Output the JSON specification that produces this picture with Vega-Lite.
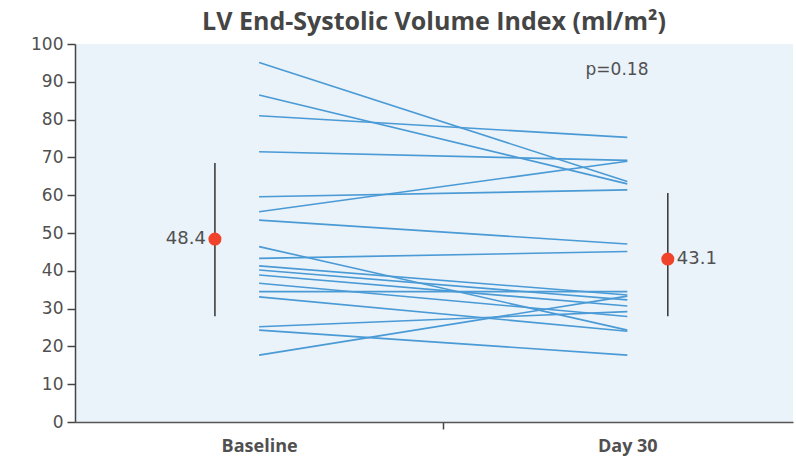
{
  "$schema": "https://vega.github.io/schema/vega-lite/v6.json",
  "width": 718,
  "height": 378,
  "autosize": {"type": "none"},
  "padding": {"left": 75, "top": 44, "right": 3, "bottom": 37},
  "background": "white",
  "view": {"fill": "#eaf2fa", "stroke": null},
  "config": {
    "axisX": {
      "title": null,
      "labelFont": "Open Sans",
      "labelFontSize": 18,
      "labelFontWeight": "bold",
      "labelColor": "#505050",
      "labelPadding": 8,
      "labelOverlap": false,
      "labelFlush": false,
      "tickSize": 7,
      "tickWidth": 1.5,
      "tickColor": "#444",
      "domainColor": "#555",
      "domainWidth": 1.5,
      "grid": false
    },
    "axisY": {
      "title": null,
      "labelFont": "DejaVu Sans",
      "labelFontSize": 17,
      "labelColor": "#505050",
      "labelPadding": 4,
      "labelOverlap": false,
      "labelFlush": false,
      "tickSize": 8,
      "tickWidth": 1.5,
      "tickColor": "#444",
      "domainColor": "#444",
      "domainWidth": 1.5,
      "grid": false
    }
  },
  "title": {
    "text": "LV End-Systolic Volume Index (ml/m²)",
    "font": "Open Sans",
    "fontSize": 25,
    "fontWeight": "bold",
    "color": "#454545",
    "anchor": "middle",
    "offset": 0
  },
  "datasets": {
    "lines": [
      {"id": 1, "t": 1, "v": 95.1}, {"id": 1, "t": 2, "v": 63.6},
      {"id": 2, "t": 1, "v": 86.5}, {"id": 2, "t": 2, "v": 63.0},
      {"id": 3, "t": 1, "v": 81.0}, {"id": 3, "t": 2, "v": 75.3},
      {"id": 4, "t": 1, "v": 71.5}, {"id": 4, "t": 2, "v": 69.2},
      {"id": 5, "t": 1, "v": 59.6}, {"id": 5, "t": 2, "v": 61.4},
      {"id": 6, "t": 1, "v": 55.6}, {"id": 6, "t": 2, "v": 69.0},
      {"id": 7, "t": 1, "v": 53.4}, {"id": 7, "t": 2, "v": 47.1},
      {"id": 8, "t": 1, "v": 46.4}, {"id": 8, "t": 2, "v": 24.3},
      {"id": 9, "t": 1, "v": 43.3}, {"id": 9, "t": 2, "v": 45.1},
      {"id": 10, "t": 1, "v": 41.3}, {"id": 10, "t": 2, "v": 33.6},
      {"id": 11, "t": 1, "v": 40.2}, {"id": 11, "t": 2, "v": 32.3},
      {"id": 12, "t": 1, "v": 38.9}, {"id": 12, "t": 2, "v": 30.7},
      {"id": 13, "t": 1, "v": 36.7}, {"id": 13, "t": 2, "v": 27.9},
      {"id": 14, "t": 1, "v": 34.5}, {"id": 14, "t": 2, "v": 34.5},
      {"id": 15, "t": 1, "v": 33.1}, {"id": 15, "t": 2, "v": 24.0},
      {"id": 16, "t": 1, "v": 25.2}, {"id": 16, "t": 2, "v": 29.2},
      {"id": 17, "t": 1, "v": 24.3}, {"id": 17, "t": 2, "v": 17.7},
      {"id": 18, "t": 1, "v": 17.7}, {"id": 18, "t": 2, "v": 33.3}
    ],
    "means": [
      {"x": 0.88, "mean": 48.4, "lo": 28.0, "hi": 68.5, "label": "48.4", "side": "left"},
      {"x": 2.11, "mean": 43.1, "lo": 28.0, "hi": 60.6, "label": "43.1", "side": "right"}
    ],
    "note": [{"x": 1.972, "y": 93.1, "text": "p=0.18"}]
  },
  "layer": [
    {
      "data": {"name": "lines"},
      "mark": {"type": "line", "color": "#4a9ad5", "strokeWidth": 1.6},
      "encoding": {
        "x": {
          "field": "t", "type": "quantitative",
          "scale": {"domain": [0.5, 2.45], "nice": false, "zero": false},
          "axis": {"values": [1, 1.5, 2], "labelExpr": "datum.value == 1 ? 'Baseline' : datum.value == 2 ? 'Day 30' : ''", "tickOpacity": {"condition": {"test": "datum.value == 1.5", "value": 1}, "value": 0}}
        },
        "y": {
          "field": "v", "type": "quantitative",
          "scale": {"domain": [0, 100], "nice": false},
          "axis": {"values": [0, 10, 20, 30, 40, 50, 60, 70, 80, 90, 100]}
        },
        "detail": {"field": "id", "type": "nominal"}
      }
    },
    {
      "data": {"name": "means"},
      "mark": {"type": "rule", "color": "#333", "strokeWidth": 1.5},
      "encoding": {
        "x": {"field": "x", "type": "quantitative", "axis": {"values": [1, 1.5, 2], "labelExpr": "datum.value == 1 ? 'Baseline' : datum.value == 2 ? 'Day 30' : ''", "tickOpacity": {"condition": {"test": "datum.value == 1.5", "value": 1}, "value": 0}}},
        "y": {"field": "lo", "type": "quantitative", "axis": {"values": [0, 10, 20, 30, 40, 50, 60, 70, 80, 90, 100]}},
        "y2": {"field": "hi"}
      }
    },
    {
      "data": {"name": "means"},
      "mark": {"type": "circle", "color": "#f0432b", "opacity": 1, "size": 170},
      "encoding": {
        "x": {"field": "x", "type": "quantitative", "axis": {"values": [1, 1.5, 2], "labelExpr": "datum.value == 1 ? 'Baseline' : datum.value == 2 ? 'Day 30' : ''", "tickOpacity": {"condition": {"test": "datum.value == 1.5", "value": 1}, "value": 0}}},
        "y": {"field": "mean", "type": "quantitative", "axis": {"values": [0, 10, 20, 30, 40, 50, 60, 70, 80, 90, 100]}}
      }
    },
    {
      "data": {"name": "means"},
      "transform": [{"filter": "datum.side == 'left'"}],
      "mark": {"type": "text", "align": "right", "baseline": "middle", "dx": -9, "font": "DejaVu Sans", "fontSize": 18, "color": "#505050"},
      "encoding": {
        "x": {"field": "x", "type": "quantitative", "axis": {"values": [1, 1.5, 2], "labelExpr": "datum.value == 1 ? 'Baseline' : datum.value == 2 ? 'Day 30' : ''", "tickOpacity": {"condition": {"test": "datum.value == 1.5", "value": 1}, "value": 0}}},
        "y": {"field": "mean", "type": "quantitative", "axis": {"values": [0, 10, 20, 30, 40, 50, 60, 70, 80, 90, 100]}},
        "text": {"field": "label"}
      }
    },
    {
      "data": {"name": "means"},
      "transform": [{"filter": "datum.side == 'right'"}],
      "mark": {"type": "text", "align": "left", "baseline": "middle", "dx": 9, "font": "DejaVu Sans", "fontSize": 18, "color": "#505050"},
      "encoding": {
        "x": {"field": "x", "type": "quantitative", "axis": {"values": [1, 1.5, 2], "labelExpr": "datum.value == 1 ? 'Baseline' : datum.value == 2 ? 'Day 30' : ''", "tickOpacity": {"condition": {"test": "datum.value == 1.5", "value": 1}, "value": 0}}},
        "y": {"field": "mean", "type": "quantitative", "axis": {"values": [0, 10, 20, 30, 40, 50, 60, 70, 80, 90, 100]}},
        "text": {"field": "label"}
      }
    },
    {
      "data": {"name": "note"},
      "mark": {"type": "text", "align": "center", "baseline": "middle", "font": "DejaVu Sans", "fontSize": 17, "color": "#505050"},
      "encoding": {
        "x": {"field": "x", "type": "quantitative", "axis": {"values": [1, 1.5, 2], "labelExpr": "datum.value == 1 ? 'Baseline' : datum.value == 2 ? 'Day 30' : ''", "tickOpacity": {"condition": {"test": "datum.value == 1.5", "value": 1}, "value": 0}}},
        "y": {"field": "y", "type": "quantitative", "axis": {"values": [0, 10, 20, 30, 40, 50, 60, 70, 80, 90, 100]}},
        "text": {"field": "text"}
      }
    }
  ]
}
